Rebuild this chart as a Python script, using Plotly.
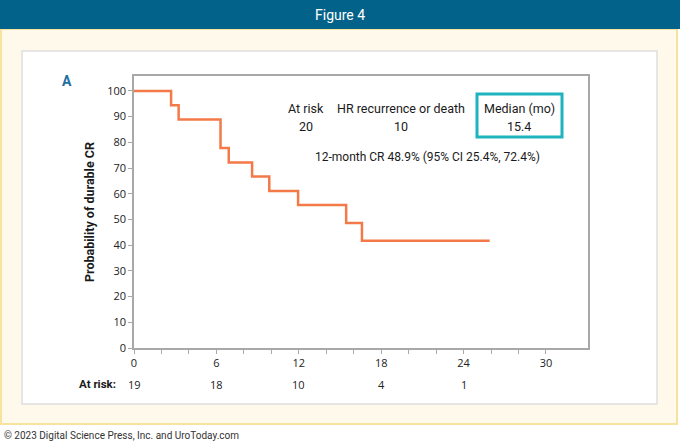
import plotly.graph_objects as go

# --- Data ---
months = [0, 2.7, 3.25, 6.3, 6.9, 8.6, 9.85, 11.95, 15.45, 16.6, 25.9]
durable_cr = [100, 94.4, 88.9, 77.8, 72.2, 66.7, 61.1, 55.6, 48.6, 41.7, 41.7]

risk_months = [0, 6, 12, 18, 24]
at_risk = [19, 18, 10, 4, 1]

x_ticks = list(range(0, 31, 2))
x_labels = [str(t) if t % 6 == 0 else "" for t in x_ticks]
y_ticks = list(range(0, 101, 10))

# --- Page geometry (pixels) ---
W, H = 680, 447
L, R, T, B = 134, 588, 76, 348

def px(x):
    return (x - L) / (R - L)

def py(y):
    return (B - y) / (B - T)

NARROW = "Liberation Sans Narrow, Roboto, sans-serif"
TICKS = "Open Sans, sans-serif"

fig = go.Figure()

fig.add_trace(go.Scatter(
    x=months,
    y=durable_cr,
    mode="lines",
    line=dict(color="#F37A48", width=2.5, shape="hv"),
    showlegend=False,
    hoverinfo="skip",
))

# --- Background panels ---
shapes = [
    dict(type="rect", xref="paper", yref="paper", layer="below",
         x0=px(1), x1=px(677), y0=py(424), y1=py(29),
         fillcolor="#FFF9EB", line=dict(color="#F8E2A0", width=2)),
    dict(type="rect", xref="paper", yref="paper", layer="below",
         x0=px(22), x1=px(657), y0=py(404), y1=py(51),
         fillcolor="white", line=dict(color="#DEDEDE", width=1.5)),
    dict(type="rect", xref="paper", yref="paper", layer="below",
         x0=px(0), x1=px(680), y0=py(29), y1=py(0),
         fillcolor="#03628A", line=dict(width=0)),
    dict(type="rect", xref="paper", yref="paper",
         x0=px(477), x1=px(562), y0=py(137), y1=py(94),
         fillcolor="rgba(0,0,0,0)", line=dict(color="#1DB4BD", width=3)),
]

annotations = [
    dict(text="Figure 4", x=px(340), y=py(15), font=dict(size=14, color="white", family=NARROW)),
    dict(text="<b>A</b>", x=px(67), y=py(81), font=dict(size=14, color="#1F6FA0", family=NARROW)),
    dict(text="At risk", x=px(306), y=py(108), font=dict(size=12.5, color="#1a1a1a", family=NARROW)),
    dict(text="20", x=px(306), y=py(126), font=dict(size=12.5, color="#1a1a1a", family=NARROW)),
    dict(text="HR recurrence or death", x=px(401), y=py(108), font=dict(size=12.5, color="#1a1a1a", family=NARROW)),
    dict(text="10", x=px(401), y=py(126), font=dict(size=12.5, color="#1a1a1a", family=NARROW)),
    dict(text="Median (mo)", x=px(519), y=py(108), font=dict(size=12.5, color="#1a1a1a", family=NARROW)),
    dict(text="15.4", x=px(519), y=py(126), font=dict(size=12.5, color="#1a1a1a", family=NARROW)),
    dict(text="12-month CR 48.9% (95% CI 25.4%, 72.4%)", x=px(427), y=py(157),
         font=dict(size=12, color="#1a1a1a", family=NARROW)),
    dict(text="<b>At risk:</b>", x=px(118), y=py(384), xanchor="right",
         font=dict(size=11.5, color="#1a1a1a", family=NARROW)),
    dict(text="© 2023 Digital Science Press, Inc. and UroToday.com", x=px(2), y=py(435), xanchor="left",
         font=dict(size=10, color="#333333", family=NARROW)),
]
for a in annotations:
    a.setdefault("xref", "paper")
    a.setdefault("yref", "paper")
    a.setdefault("xanchor", "center")
    a.setdefault("yanchor", "middle")
    a.setdefault("showarrow", False)

for t, n in zip(risk_months, at_risk):
    annotations.append(dict(text=str(n), x=t, xref="x", y=py(384), yref="paper",
                            xanchor="center", yanchor="middle", showarrow=False,
                            font=dict(size=11, color="#222222", family=TICKS)))

fig.update_layout(
    width=W, height=H,
    margin=dict(l=L, r=W - R, t=T, b=H - B),
    paper_bgcolor="white",
    plot_bgcolor="white",
    shapes=shapes,
    annotations=annotations,
    xaxis=dict(
        range=[0, 33.06], tickvals=x_ticks, ticktext=x_labels,
        ticks="outside", ticklen=4, tickcolor="#A8A8A8",
        showline=True, linecolor="#A8A8A8", linewidth=1.5, mirror=True,
        showgrid=False, zeroline=False,
        tickfont=dict(size=11, color="#222222", family=TICKS),
    ),
    yaxis=dict(
        range=[0, 105.8], tickvals=y_ticks,
        ticks="outside", ticklen=4, tickcolor="#A8A8A8",
        showline=True, linecolor="#A8A8A8", linewidth=1.5, mirror=True,
        showgrid=False, zeroline=False,
        tickfont=dict(size=11, color="#222222", family=TICKS),
        title=dict(text="<b>Probability of durable CR</b>", standoff=10,
                   font=dict(size=12.5, color="#1a1a1a", family=NARROW)),
    ),
)

# the page's default body margin would push the figure 8px off the window
fig.write_html("out.html", config={"displayModeBar": False},
               post_script="document.body.style.margin='0px';")
